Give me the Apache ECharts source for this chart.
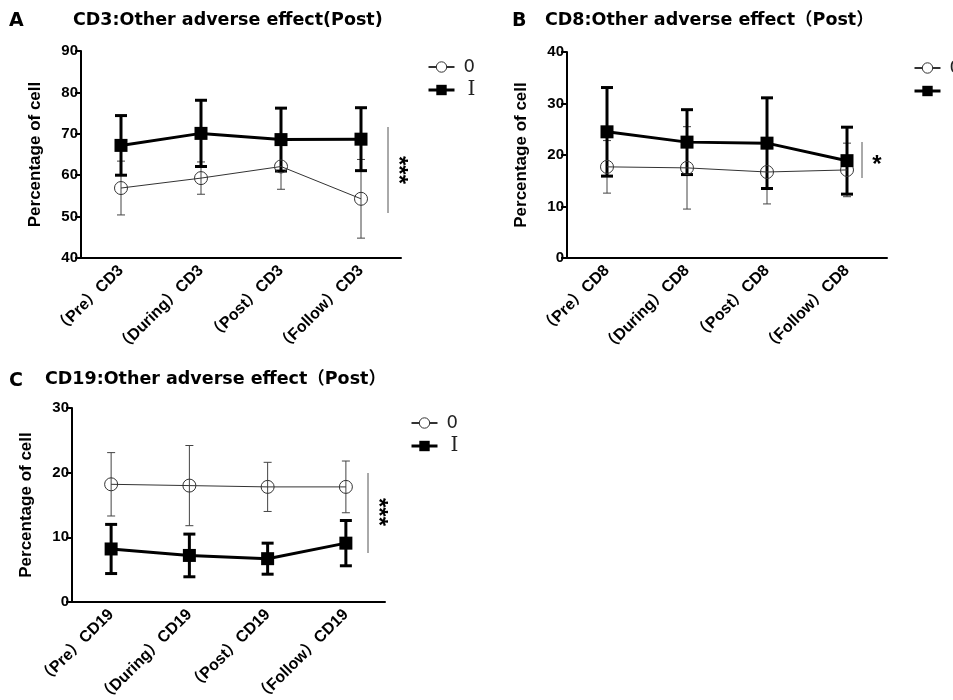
<!DOCTYPE html>
<html>
<head>
<meta charset="utf-8">
<script src="https://cdn.jsdelivr.net/npm/echarts@6/dist/echarts.min.js"></script>
<style>
  html, body { margin: 0; padding: 0; background: #fff; }
  #main { width: 953px; height: 700px; }
</style>
</head>
<body>
<div id="main"></div>
<script>
// categories
const catsCD3 = ['（Pre）CD3', '（During）CD3', '（Post）CD3', '（Follow）CD3'];
const catsCD8 = ['（Pre）CD8', '（During）CD8', '（Post）CD8', '（Follow）CD8'];
const catsCD19 = ['（Pre）CD19', '（During）CD19', '（Post）CD19', '（Follow）CD19'];

// group 0 (open circles) mean and SD
const cd3Zero = [56.9, 59.3, 62.1, 54.3];
const cd3ZeroSd = [6.5, 3.9, 5.5, 9.5];
const cd8Zero = [17.7, 17.5, 16.7, 17.1];
const cd8ZeroSd = [5.1, 8.0, 6.2, 5.2];
const cd19Zero = [18.2, 18.0, 17.8, 17.8];
const cd19ZeroSd = [4.9, 6.2, 3.8, 4.0];

// group I (filled squares) mean and SD
const cd3One = [67.2, 70.1, 68.6, 68.7];
const cd3OneSd = [7.2, 8.0, 7.6, 7.6];
const cd8One = [24.5, 22.5, 22.3, 18.9];
const cd8OneSd = [8.6, 6.3, 8.8, 6.5];
const cd19One = [8.2, 7.2, 6.7, 9.1];
const cd19OneSd = [3.8, 3.3, 2.4, 3.5];

// y axis ranges
const yRanges = [[40, 90], [0, 40], [0, 30]];

const chart = echarts.init(document.getElementById('main'), null, { renderer: 'canvas' });

const fontSans = '"Liberation Sans", Arial, "Noto Sans CJK SC", sans-serif';
const fontTitle = '"DejaVu Sans", "Noto Sans CJK SC", sans-serif';

function errorBars(idx, means, sds, color, width, cap, z) {
  return {
    type: 'custom',
    xAxisIndex: idx,
    yAxisIndex: idx,
    z: z,
    silent: true,
    data: means.map((m, i) => [i, m, sds[i]]),
    renderItem: (params, api) => {
      const i = api.value(0);
      const m = api.value(1);
      const s = api.value(2);
      const top = api.coord([i, m + s]);
      const bot = api.coord([i, m - s]);
      const st = { stroke: color, lineWidth: width };
      return {
        type: 'group',
        children: [
          { type: 'line', shape: { x1: top[0], y1: top[1], x2: bot[0], y2: bot[1] }, style: st },
          { type: 'line', shape: { x1: top[0] - cap, y1: top[1], x2: top[0] + cap, y2: top[1] }, style: st },
          { type: 'line', shape: { x1: bot[0] - cap, y1: bot[1], x2: bot[0] + cap, y2: bot[1] }, style: st }
        ]
      };
    }
  };
}

function lineSeries(idx, name, means) {
  const zero = name === '0';
  return {
    type: 'line',
    name: name,
    xAxisIndex: idx,
    yAxisIndex: idx,
    data: means,
    z: zero ? 3 : 4,
    symbol: zero ? 'circle' : 'rect',
    symbolSize: zero ? 13 : 13,
    itemStyle: zero
      ? { color: 'rgba(255,255,255,0)', borderColor: '#333', borderWidth: 1 }
      : { color: '#000' },
    lineStyle: { color: zero ? '#333' : '#000', width: zero ? 1 : 3 },
    animation: false
  };
}

const grids = [
  { left: 81, top: 51, width: 320, height: 207, outerBoundsMode: 'none' },
  { left: 567, top: 52, width: 320, height: 206, outerBoundsMode: 'none' },
  { left: 72, top: 408, width: 313, height: 194, outerBoundsMode: 'none' }
];
const cats = [catsCD3, catsCD8, catsCD19];

const xAxes = cats.map((c, i) => ({
  type: 'category',
  gridIndex: i,
  data: c,
  boundaryGap: true,
  axisLine: { lineStyle: { color: '#000', width: 2 } },
  axisTick: { alignWithLabel: true, length: 6, lineStyle: { color: '#000', width: 2 } },
  axisLabel: {
    rotate: 45, margin: 10, color: '#000', fontWeight: 'bold', fontSize: 16,
    fontFamily: fontSans
  }
}));

const yAxes = yRanges.map((r, i) => ({
  type: 'value',
  gridIndex: i,
  min: r[0],
  max: r[1],
  interval: 10,
  name: 'Percentage of cell',
  nameLocation: 'middle',
  nameGap: 37,
  nameTextStyle: { color: '#000', fontWeight: 'bold', fontSize: 17, fontFamily: fontSans },
  axisLine: { show: true, lineStyle: { color: '#000', width: 2 } },
  axisTick: { show: true, length: 6, lineStyle: { color: '#000', width: 2 } },
  axisLabel: { color: '#000', fontWeight: 'bold', fontSize: 15, margin: 3, fontFamily: fontSans },
  splitLine: { show: false }
}));

const series = [
  errorBars(0, cd3Zero, cd3ZeroSd, '#444', 1, 4, 2),
  errorBars(0, cd3One, cd3OneSd, '#000', 3, 6, 3),
  lineSeries(0, '0', cd3Zero),
  lineSeries(0, 'Ⅰ', cd3One),
  errorBars(1, cd8Zero, cd8ZeroSd, '#444', 1, 4, 2),
  errorBars(1, cd8One, cd8OneSd, '#000', 3, 6, 3),
  lineSeries(1, '0', cd8Zero),
  lineSeries(1, 'Ⅰ', cd8One),
  errorBars(2, cd19Zero, cd19ZeroSd, '#444', 1, 4, 2),
  errorBars(2, cd19One, cd19OneSd, '#000', 3, 6, 3),
  lineSeries(2, '0', cd19Zero),
  lineSeries(2, 'Ⅰ', cd19One)
];

const legendPos = [[422, 53], [908, 54], [405, 409]];
const legends = legendPos.map(p => ({
  left: p[0],
  top: p[1],
  orient: 'vertical',
  itemWidth: 26,
  itemHeight: 13,
  itemGap: 4,
  selectedMode: false,
  textStyle: { color: '#222', fontSize: 18, fontFamily: '"DejaVu Sans", sans-serif', padding: [0, 0, 0, 4] },
  data: [
    { name: '0', itemStyle: { color: '#fff', borderColor: '#333', borderWidth: 1 } },
    {
      name: 'Ⅰ', lineStyle: { width: 3, color: '#000' },
      textStyle: { fontFamily: '"DejaVu Serif", "Liberation Serif", serif', fontSize: 20, padding: [0, 0, 0, 8] }
    }
  ]
}));

const titleStyle = { fill: '#000', font: 'bold 17.5px ' + fontTitle };
const letterStyle = { fill: '#000', font: 'bold 19px ' + fontTitle };

const option = {
  backgroundColor: '#fff',
  animation: false,
  grid: grids,
  xAxis: xAxes,
  yAxis: yAxes,
  legend: legends,
  series: series,
  graphic: [
    { type: 'text', left: 9, top: 12, style: Object.assign({ text: 'A' }, letterStyle) },
    { type: 'text', left: 73, top: 12, style: Object.assign({ text: 'CD3:Other adverse effect(Post)' }, titleStyle) },
    { type: 'text', left: 512, top: 12, style: Object.assign({ text: 'B' }, letterStyle) },
    { type: 'text', left: 545, top: 12, style: Object.assign({ text: 'CD8:Other adverse effect（Post）' }, titleStyle) },
    { type: 'text', left: 9, top: 372, style: Object.assign({ text: 'C' }, letterStyle) },
    { type: 'text', left: 45, top: 371, style: Object.assign({ text: 'CD19:Other adverse effect（Post）' }, titleStyle) },
    // significance markers
    { type: 'line', shape: { x1: 388, y1: 127, x2: 388, y2: 213 }, style: { stroke: '#555', lineWidth: 1 } },
    { type: 'text', x: 398, y: 170, rotation: -Math.PI / 2, style: { text: '***', fill: '#000', font: 'bold 24px ' + fontSans, align: 'center', verticalAlign: 'middle' } },
    { type: 'line', shape: { x1: 862, y1: 142, x2: 862, y2: 178 }, style: { stroke: '#555', lineWidth: 1 } },
    { type: 'text', x: 877, y: 165, style: { text: '*', fill: '#000', font: 'bold 24px ' + fontSans, align: 'center', verticalAlign: 'middle' } },
    { type: 'line', shape: { x1: 368, y1: 473, x2: 368, y2: 553 }, style: { stroke: '#555', lineWidth: 1 } },
    { type: 'text', x: 378, y: 512, rotation: -Math.PI / 2, style: { text: '***', fill: '#000', font: 'bold 24px ' + fontSans, align: 'center', verticalAlign: 'middle' } }
  ]
};

chart.setOption(option);
</script>
</body>
</html>
